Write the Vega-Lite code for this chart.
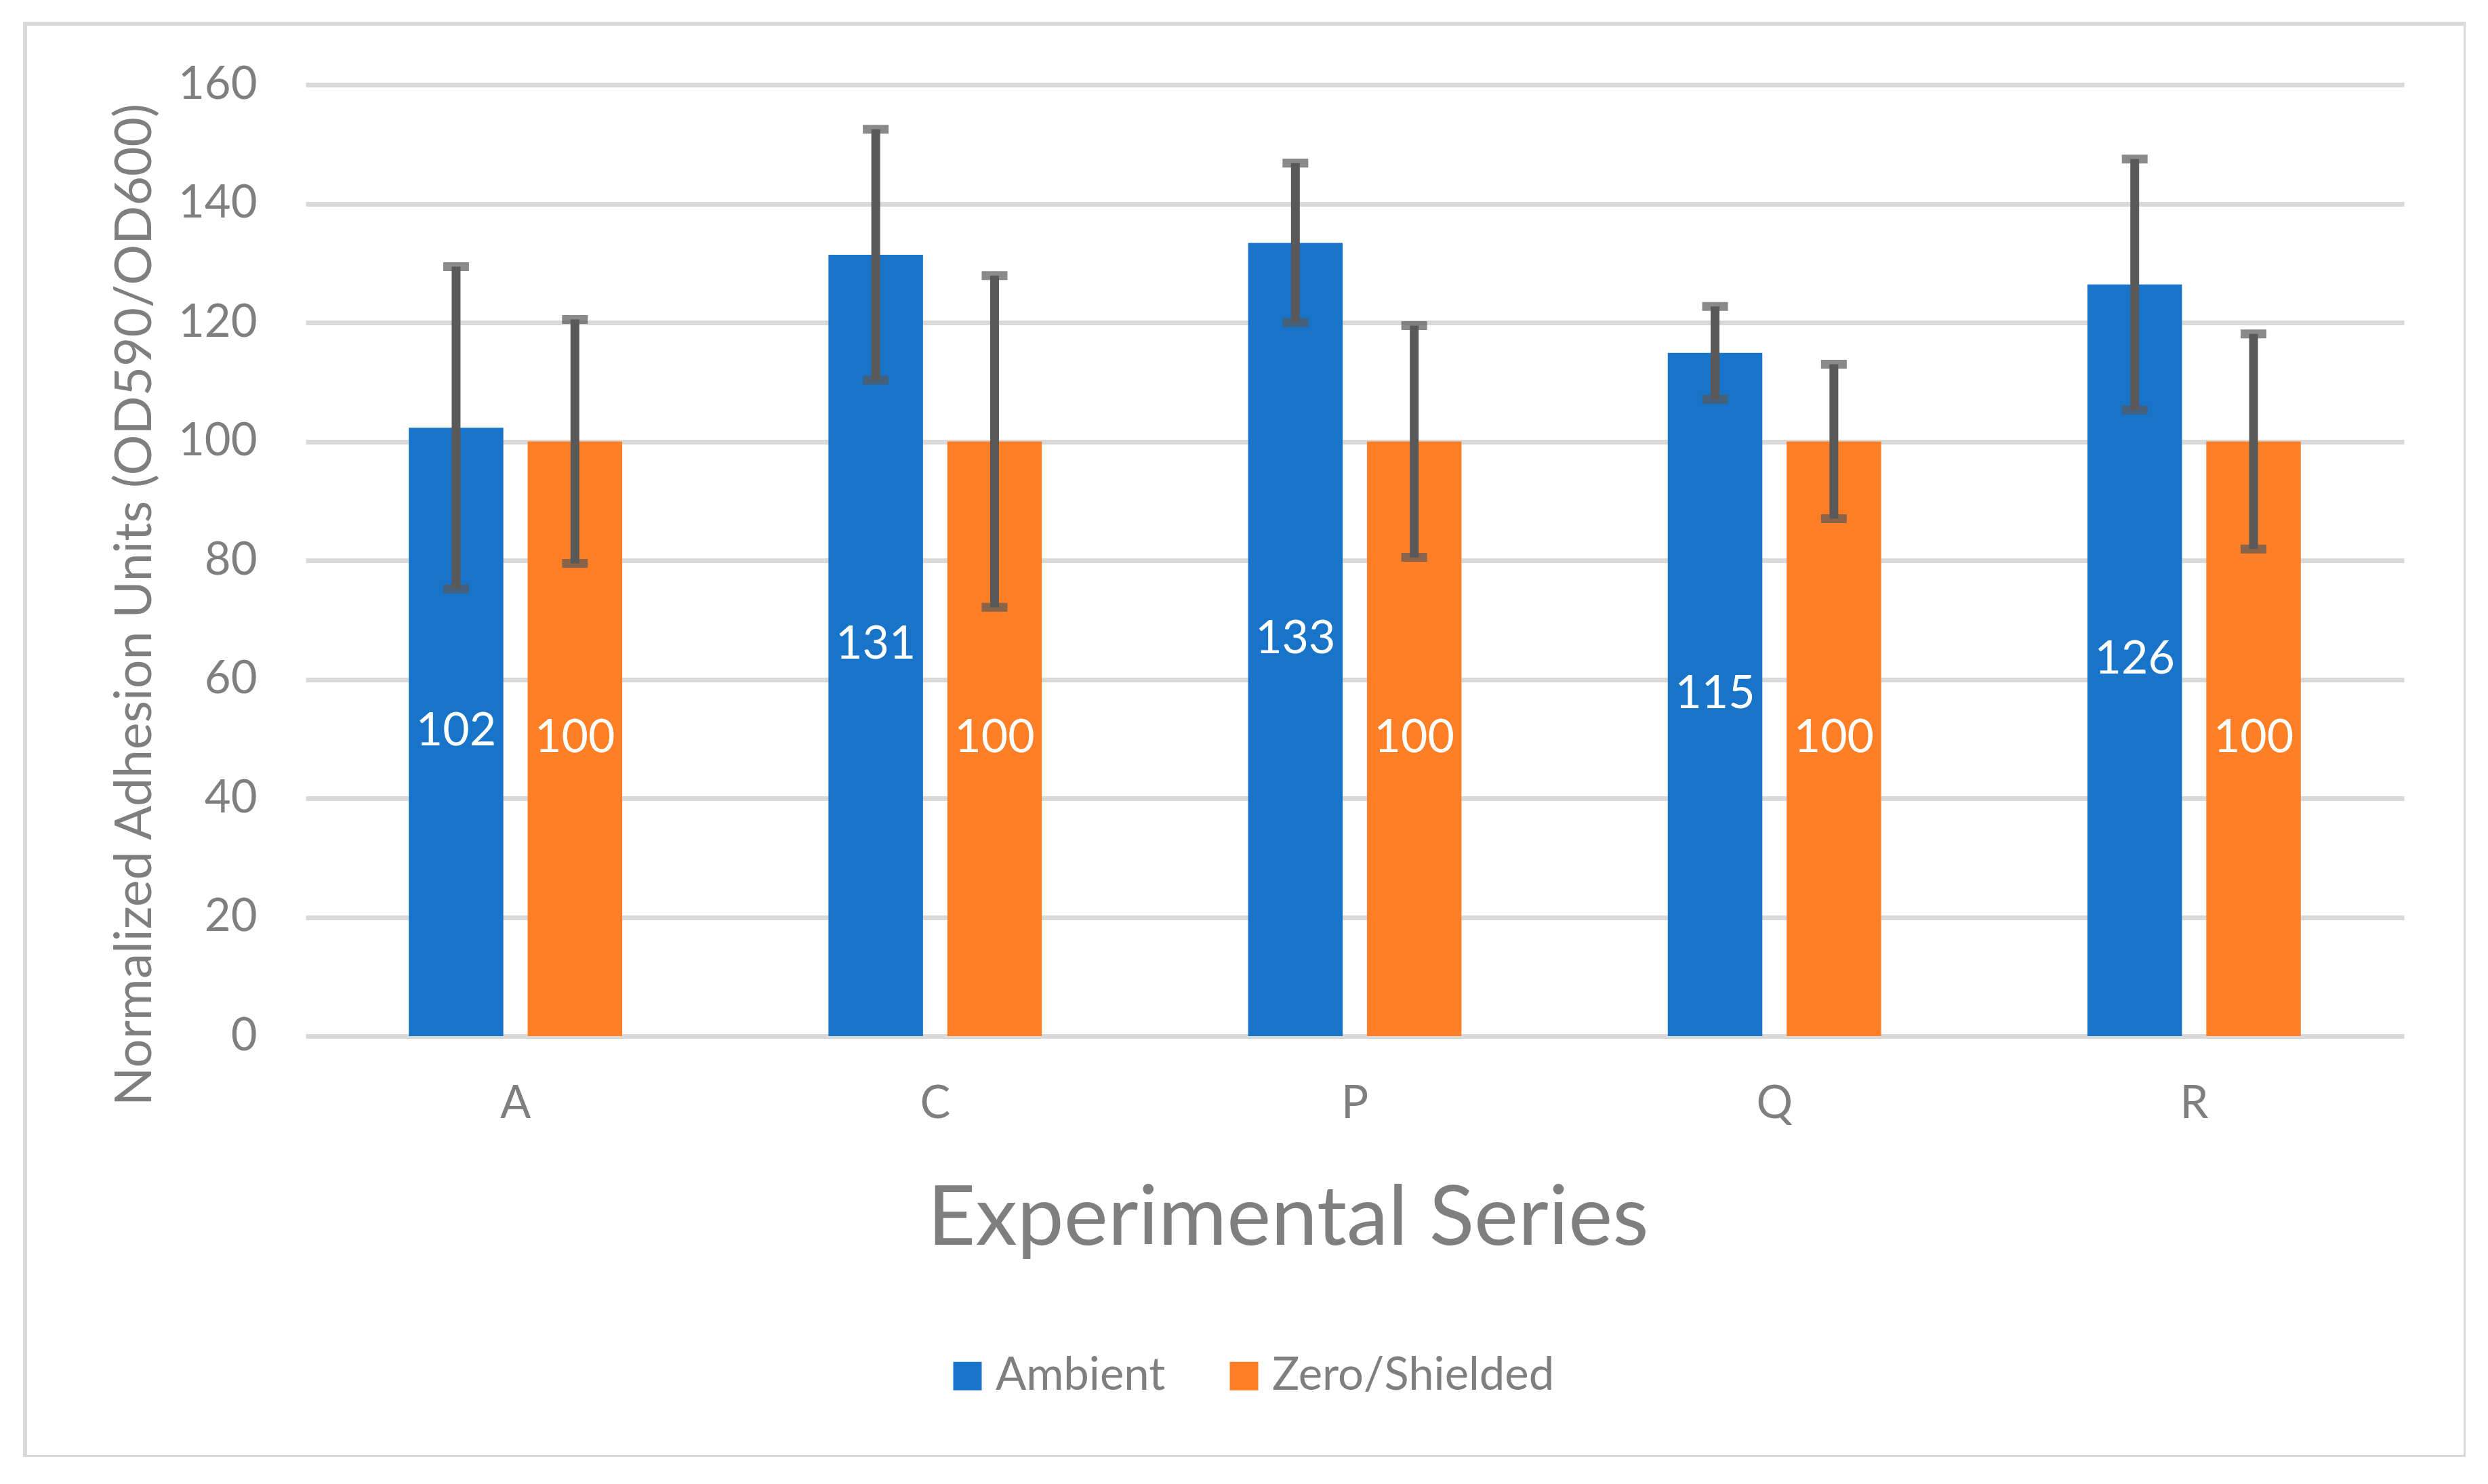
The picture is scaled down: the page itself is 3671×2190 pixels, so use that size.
{
  "$schema": "https://vega.github.io/schema/vega-lite/v6.json",
  "width": 3601,
  "height": 2115,
  "autosize": {"type": "none"},
  "padding": {"left": 37, "top": 35, "right": 0, "bottom": 0},
  "background": "white",
  "config": {
    "font": "Lato",
    "view": {"stroke": "#d9d9d9", "strokeWidth": 6},
    "axis": {"labelColor": "#7f7f7f", "titleColor": "#7f7f7f", "labelFont": "Lato", "titleFont": "Lato", "titleFontWeight": "normal"}
  },
  "data": {
    "values": [
      {"series": "A", "condition": "Ambient", "value": 102.3, "err": 27.1},
      {"series": "A", "condition": "Zero/Shielded", "value": 100, "err": 20.5},
      {"series": "C", "condition": "Ambient", "value": 131.4, "err": 21.1},
      {"series": "C", "condition": "Zero/Shielded", "value": 100, "err": 27.9},
      {"series": "P", "condition": "Ambient", "value": 133.4, "err": 13.4},
      {"series": "P", "condition": "Zero/Shielded", "value": 100, "err": 19.5},
      {"series": "Q", "condition": "Ambient", "value": 114.9, "err": 7.8},
      {"series": "Q", "condition": "Zero/Shielded", "value": 100, "err": 13.0},
      {"series": "R", "condition": "Ambient", "value": 126.4, "err": 21.1},
      {"series": "R", "condition": "Zero/Shielded", "value": 100, "err": 18.1}
    ]
  },
  "encoding": {
    "x": {
      "field": "series", "type": "nominal",
      "scale": {"type": "band", "range": [414, 3510], "paddingInner": 0.4916, "paddingOuter": 0.2458},
      "axis": {
        "title": "Experimental Series", "titleFontSize": 123, "titleX": 1863, "titleY": 307,
        "titleAnchor": null, "titleAlign": "center", "titleBaseline": "alphabetic",
        "labelFontSize": 67, "labelAngle": 0, "labelPadding": 67,
        "ticks": false, "domain": false, "grid": false, "offset": -621
      }
    },
    "xOffset": {
      "field": "condition", "type": "nominal",
      "scale": {"paddingInner": 0.2045, "paddingOuter": 0}
    }
  },
  "layer": [
    {
      "mark": {"type": "bar", "strokeWidth": 0},
      "encoding": {
        "y": {
          "field": "value", "type": "quantitative",
          "scale": {"domain": [0, 160], "range": [1494, 90], "nice": false, "zero": true},
          "axis": {
            "title": "Normalized Adhesion Units (OD590/OD600)", "titleFontSize": 75,
            "titleAngle": 270, "titleX": -229, "titleY": 857, "titleAlign": "center", "titleBaseline": "alphabetic",
            "titleAnchor": null,
            "values": [0, 20, 40, 60, 80, 100, 120, 140, 160],
            "labelFontSize": 67, "labelPadding": 72, "ticks": false, "domain": false,
            "grid": true, "gridColor": "#d9d9d9", "gridWidth": 7, "offset": -414
          }
        },
        "color": {
          "field": "condition", "type": "nominal",
          "scale": {"domain": ["Ambient", "Zero/Shielded"], "range": ["#1874C9", "#FF7F27"]},
          "legend": {
            "title": null, "orient": "none", "direction": "horizontal",
            "legendX": 1357, "legendY": 1962,
            "symbolType": "square", "symbolSize": 1764, "symbolStrokeWidth": 0,
            "labelFontSize": 67, "labelColor": "#7f7f7f", "labelFont": "Lato", "labelLimit": 0,
            "labelOffset": 8, "columnPadding": 82
          }
        }
      }
    },
    {
      "mark": {
        "type": "errorbar",
        "rule": {"strokeWidth": 13, "color": "#595959"},
        "ticks": {"size": 38, "thickness": 13, "color": "#595959"}
      },
      "encoding": {
        "y": {
          "field": "value", "type": "quantitative",
          "scale": {"domain": [0, 160], "range": [1494, 90], "nice": false, "zero": true},
          "axis": null
        },
        "yError": {"field": "err"}
      }
    },
    {
      "mark": {"type": "text", "color": "white", "fontSize": 68, "font": "Lato", "baseline": "middle", "align": "center"},
      "encoding": {
        "y": {
          "field": "value", "type": "quantitative",
          "scale": {"domain": [0, 320], "range": [1494, 90], "nice": false, "zero": true},
          "axis": null
        },
        "text": {"field": "value", "type": "quantitative", "format": ".0f"}
      }
    }
  ],
  "resolve": {"scale": {"y": "independent"}}
}
